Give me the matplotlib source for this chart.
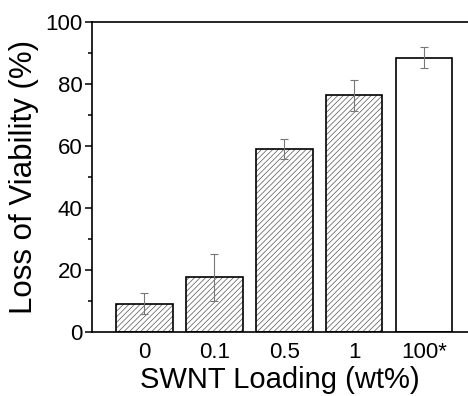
import numpy as np
import matplotlib.pyplot as plt

plt.rcParams['font.family'] = ['Liberation Sans', 'DejaVu Sans']
plt.rcParams['hatch.linewidth'] = 0.5
plt.rcParams['hatch.color'] = '#555555'

# data
labels = ['0', '0.1', '0.5', '1', '100*']
values = [9.1, 17.6, 59.1, 76.3, 88.5]
errors = [3.4, 7.7, 3.3, 5.0, 3.5]
hatched = [True, True, True, True, False]

fig = plt.figure(figsize=(4.68, 3.96), dpi=100)
ax = fig.add_axes([0.1966, 0.1616, 0.8034, 0.783])

x = np.arange(len(labels))
for i in range(len(labels)):
    if hatched[i]:
        ax.bar(x[i], values[i], width=0.81, color='white', hatch='//////',
               edgecolor='#555555', linewidth=0, zorder=2)
    ax.bar(x[i], values[i], width=0.81, color='none', edgecolor='black',
           linewidth=1.2, zorder=3)

ax.errorbar(x, values, yerr=errors, fmt='none', ecolor='#777777',
            elinewidth=0.8, capsize=3, capthick=0.8, zorder=4)

ax.set_xlim(-0.75, 4.63)
ax.set_ylim(0, 100)
ax.set_yticks(np.arange(0, 101, 20))
ax.set_yticks(np.arange(10, 100, 20), minor=True)
ax.set_xticks(x)
ax.set_xticklabels(labels)
ax.tick_params(axis='x', length=0, labelsize=16, pad=7)
ax.tick_params(axis='y', which='major', direction='out', length=5, width=1.1,
               labelsize=16, pad=2)
ax.tick_params(axis='y', which='minor', direction='out', length=3, width=1.1)

for s in ['left', 'bottom', 'top']:
    ax.spines[s].set_linewidth(1.2)
ax.spines['right'].set_visible(False)

ax.set_xlabel('SWNT Loading (wt%)', fontsize=21, labelpad=2)
ax.set_ylabel('Loss of Viability (%)', fontsize=22.5, labelpad=4)

fig.savefig('out.png', dpi=100)
